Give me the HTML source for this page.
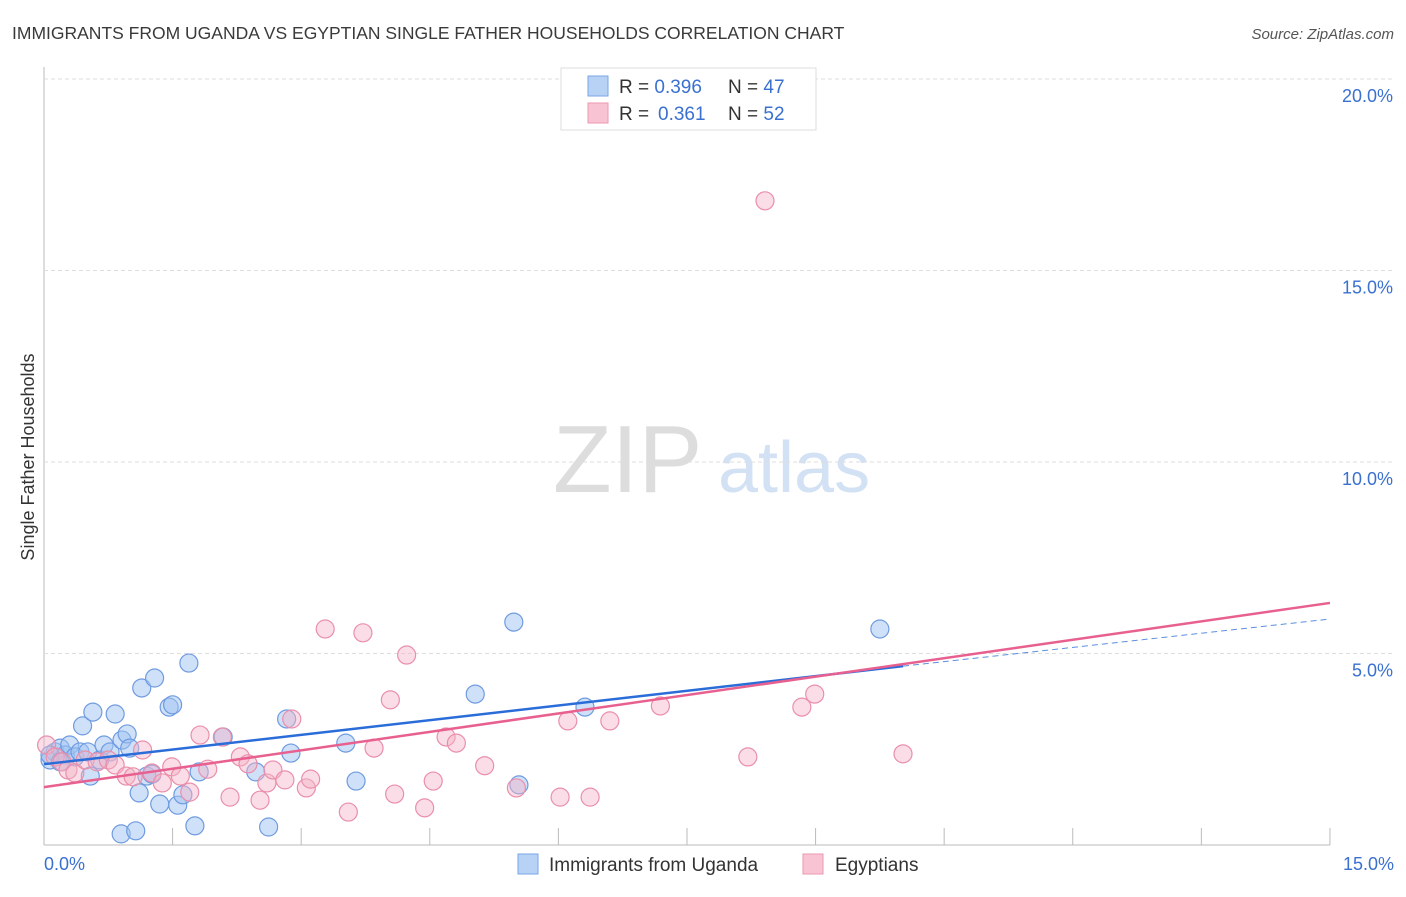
<!DOCTYPE html>
<html><head><meta charset="utf-8"><style>
body{margin:0;background:#fff;font-family:"Liberation Sans",sans-serif;}
svg text{font-family:"Liberation Sans",sans-serif;}
</style></head><body>
<svg id="c" width="1406" height="892">
<text x="12" y="39" font-size="17.5" fill="#3a3a3a">IMMIGRANTS FROM UGANDA VS EGYPTIAN SINGLE FATHER HOUSEHOLDS CORRELATION CHART</text>
<text x="1394" y="39" font-size="15" fill="#555" font-style="italic" text-anchor="end">Source: ZipAtlas.com</text>
<text x="34" y="457" font-size="18" fill="#333" text-anchor="middle" transform="rotate(-90 34 457)">Single Father Households</text>
<text x="553" y="492" font-size="96" fill="#ddd" font-family="Liberation Serif">ZIP</text>
<text x="718" y="492" font-size="72" fill="#d3e1f4">atlas</text>
<g id="grid"></g><g id="pts"></g><g id="lines"></g>
<g>
<rect x="561" y="68" width="255" height="62" fill="#fff" stroke="#ddd"/>
<rect x="588" y="76" width="20" height="20" fill="#b7d2f5" stroke="#7aa6e6"/>
<rect x="588" y="103" width="20" height="20" fill="#f8c4d3" stroke="#ec97b1"/>
<text x="619" y="93" font-size="19" fill="#333">R = <tspan fill="#3a70d0">0.396</tspan><tspan x="728">N = </tspan><tspan fill="#3a70d0">47</tspan></text>
<text x="619" y="120" font-size="19" fill="#333">R = <tspan fill="#3a70d0" x="658">0.361</tspan><tspan x="728">N = </tspan><tspan fill="#3a70d0">52</tspan></text>
</g>
<g>
<rect x="518" y="854" width="20" height="20" fill="#b7d2f5" stroke="#7aa6e6"/>
<text x="549" y="871" font-size="19" fill="#333">Immigrants from Uganda</text>
<rect x="803" y="854" width="20" height="20" fill="#f8c4d3" stroke="#ec97b1"/>
<text x="835" y="871" font-size="19" fill="#333">Egyptians</text>
</g>
</svg>
<script>
const xTicks=[0,1.5,3,4.5,6,7.5,9,10.5,12,13.5,15];
const yTicks=[5,10,15,20];
const yTickLabels=["5.0%","10.0%","15.0%","20.0%"];
const xEndLabels=["0.0%","15.0%"];
const ugX=[0.07,0.13,0.19,0.25,0.30,0.36,0.42,0.45,0.51,0.54,0.57,0.65,0.70,0.77,0.83,0.91,0.97,1.00,1.11,1.14,1.20,1.26,1.29,1.35,1.46,1.50,1.56,1.62,1.69,1.76,1.81,2.09,2.47,2.62,2.83,2.88,3.52,3.64,5.03,5.48,5.54,6.31,9.75,0.90,1.07,0.07,0.19];
const ugY=[2.22,2.43,2.53,2.35,2.61,2.30,2.43,3.11,2.43,1.80,3.47,2.22,2.61,2.43,3.42,2.74,2.90,2.53,1.36,4.10,1.80,1.85,4.36,1.07,3.60,3.66,1.04,1.31,4.75,0.50,1.91,2.82,1.91,0.47,3.29,2.40,2.66,1.67,3.94,5.82,1.57,3.60,5.64,0.29,0.37,2.35,2.17];
const egX=[0.03,0.13,0.21,0.28,0.36,0.48,0.62,0.75,0.83,0.96,1.04,1.15,1.26,1.38,1.49,1.59,1.70,1.82,1.91,2.08,2.17,2.29,2.38,2.52,2.60,2.67,2.81,2.89,3.06,3.11,3.28,3.55,3.72,3.85,4.04,4.09,4.23,4.44,4.54,4.69,4.81,5.14,5.51,6.02,6.11,6.37,6.60,7.19,8.21,8.41,8.84,8.99,10.02];
const egY=[2.61,2.30,2.17,1.96,1.88,2.22,2.17,2.22,2.09,1.80,1.78,2.48,1.88,1.62,2.04,1.80,1.38,2.87,1.98,2.82,1.25,2.30,2.12,1.17,1.62,1.96,1.70,3.29,1.49,1.72,5.64,0.86,5.54,2.53,3.79,1.33,4.96,0.97,1.67,2.82,2.66,2.07,1.49,1.25,3.24,1.25,3.24,3.63,2.30,16.82,3.60,3.94,2.38];
const ugTrend=[2.11,4.67,5.90]; // at x=0, 10.02, 15
const egTrend=[1.51,6.32]; // at x=0, 15
const NS="http://www.w3.org/2000/svg";
const X=v=>44+v*85.73, Y=v=>845-v*38.3;
function mk(t,a,p){const e=document.createElementNS(NS,t);for(const k in a)e.setAttribute(k,a[k]);p.appendChild(e);return e;}
const grid=document.getElementById('grid');
const ax=mk('line',{x1:44,y1:67,x2:44,y2:845,stroke:'#bbb'},grid);


const bx=mk('line',{x1:44,y1:845,x2:1330,y2:845,stroke:'#bbb'},grid);


yTicks.forEach((t,i)=>{
 const g=mk('line',{x1:44,y1:Y(t),x2:1394,y2:Y(t),stroke:'#ddd','stroke-dasharray':'4,3'},grid);
 
 
 const l=mk('text',{x:1393,y:Y(t)+23,'font-size':18,fill:'#3a70d0','text-anchor':'end'},grid);
 l.textContent=yTickLabels[i];
 
 
});
xTicks.forEach((t,i)=>{
 if(i===0)return;
 const k=mk('line',{x1:X(t),y1:828,x2:X(t),y2:845,stroke:'#bbb'},grid);
 
 
});
[[0,'start',44],[15,'end',1394]].forEach((d,i)=>{
 const l=mk('text',{x:d[2],y:870,'font-size':18,fill:'#3a70d0','text-anchor':d[1]},grid);
 l.textContent=xEndLabels[i];
 
 
});
const pts=document.getElementById('pts');
ugX.forEach((x,i)=>{
 const c=mk('circle',{cx:X(x),cy:Y(ugY[i]),r:9,fill:'rgba(160,196,242,0.5)',stroke:'#6f9be0','stroke-width':1.2},pts);
 
 
});
egX.forEach((x,i)=>{
 const c=mk('circle',{cx:X(x),cy:Y(egY[i]),r:9,fill:'rgba(245,180,200,0.45)',stroke:'#ea8fab','stroke-width':1.2},pts);
 
 
});
const lines=document.getElementById('lines');
const l1=mk('line',{x1:X(0),y1:Y(ugTrend[0]),x2:X(10.02),y2:Y(ugTrend[1]),stroke:'#2a6dd9','stroke-width':2.5},lines);


const l2=mk('line',{x1:X(10.02),y1:Y(ugTrend[1]),x2:X(15),y2:Y(ugTrend[2]),stroke:'#5b8fe0','stroke-width':1,'stroke-dasharray':'6,4'},lines);


const l3=mk('line',{x1:X(0),y1:Y(egTrend[0]),x2:X(15),y2:Y(egTrend[1]),stroke:'#e8608f','stroke-width':2.5},lines);


</script>
</body></html>
